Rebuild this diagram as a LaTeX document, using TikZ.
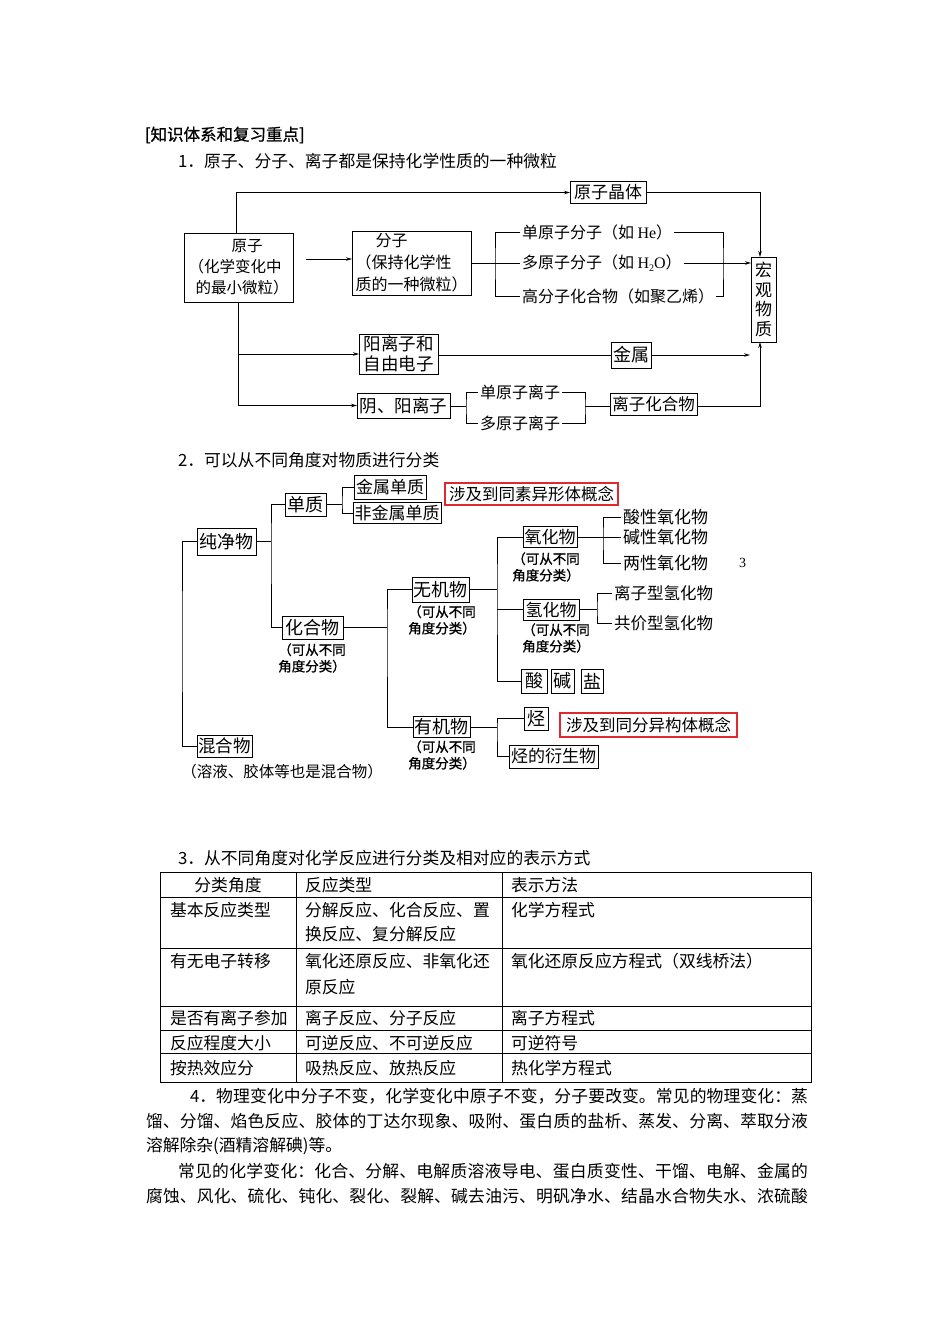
\documentclass[tikz,border=0pt]{standalone}
\usepackage{fontspec}
\setmainfont{Noto Sans CJK SC}
\newfontfamily\hb[FakeBold=1]{Noto Sans CJK SC}
\newfontfamily\lat{Liberation Serif}
\XeTeXlinebreaklocale "zh"
\XeTeXlinebreakskip=0pt plus 3pt
\usetikzlibrary{arrows.meta}
\definecolor{redbox}{RGB}{225,40,45}
\begin{document}
\begin{tikzpicture}[x=1pt,y=-1pt,
  every node/.style={inner sep=0pt, outer sep=0pt},
  ln/.style={line width=0.9pt},
  arr/.style={line width=0.9pt, -{Stealth[length=6pt,width=3.5pt]}},
  box/.style={draw, line width=0.9pt, font=\fontsize{17}{20}\selectfont},
  rbox/.style={draw=redbox, line width=1.1pt, font=\fontsize{16.5}{20}\selectfont},
  lab/.style={anchor=west, inner sep=2pt, font=\fontsize{16}{19}\selectfont},
  lab2/.style={anchor=west, inner sep=2pt, font=\fontsize{17}{19}\selectfont},
  note/.style={align=center, font=\hb\fontsize{13.5}{16.5}\selectfont},
  title/.style={anchor=west, font=\fontsize{16.8}{20}\selectfont},
  tc/.style={anchor=west, font=\fontsize{16.8}{20}\selectfont},
  jl/.style={anchor=west, text width=#1, align=justify, inner sep=0pt, font=\fontsize{16.8}{20}\selectfont},
  tbl/.style={line width=0.7pt}
]
\useasboundingbox (0,0) rectangle (950,1344);
\fill[white] (0,0) rectangle (950,1344);

% headings
\node[anchor=west, font=\hb\fontsize{16.5}{20}\selectfont] (h0) at (145,135) {[知识体系和复习重点]};
\node[title] (t1) at (178,161) {1．原子、分子、离子都是保持化学性质的一种微粒};

% ---------- diagram 1 ----------
\node[box, minimum width=109, minimum height=69, align=left, font=\fontsize{15.5}{21}\selectfont] (yz) at (238.5,267.5)
  {\hspace{43pt}原子\\（化学变化中\\\hspace{7pt}的最小微粒）};
\node[box, minimum width=119, minimum height=64, align=left, font=\fontsize{16}{22}\selectfont] (fz) at (411.5,263)
  {\hspace{20pt}分子\\（保持化学性\\质的一种微粒）};
\node[box, minimum width=76, minimum height=22] (jt) at (608,192.5) {原子晶体};
\node[box, minimum width=25, minimum height=85, align=center, font=\fontsize{17}{19.5}\selectfont] (hg) at (763.5,299.5) {宏\\观\\物\\质};
\node[lab] (dy1) at (520,232) {单原子分子（如 {\lat He}）};
\node[lab] (dy2) at (520,263) {多原子分子（如 {\lat H\raisebox{-3pt}{\fontsize{10}{10}\selectfont 2}O}）};
\node[lab] (dy3) at (520,296) {高分子化合物（如聚乙烯）};
\node[box, minimum width=79, minimum height=40, align=left, font=\fontsize{17.5}{20}\selectfont] (yl) at (398.5,354) {阳离子和\\自由电子};
\node[box, minimum width=40, minimum height=26, font=\fontsize{18}{20}\selectfont] (js) at (631,355) {金属};
\node[box, minimum width=93, minimum height=25, font=\fontsize{17.5}{20}\selectfont] (yy) at (403.5,405.5) {阴、阳离子};
\node[lab] (dz1) at (478,392) {单原子离子};
\node[lab] (dz2) at (478,423) {多原子离子};
\node[box, minimum width=87, minimum height=22, font=\fontsize{16.5}{20}\selectfont] (lz) at (653.5,404.5) {离子化合物};

\coordinate (a1) at (306,259);
\coordinate (br1) at (495,263);
\coordinate (br2) at (723,263);
\coordinate (br3) at (466,406);
\coordinate (br4) at (585,406);
\coordinate (a2) at (750,355);

\draw[arr] ([xshift=-2.5pt]yz.north) |- (jt.west);
\draw[arr] (jt.east) -| ([xshift=-3.5pt]hg.north);
\draw[arr] (a1) -- (a1 -| fz.west);
\draw[ln] (fz.east) -- (dy2.west);
\draw[ln] (dy1.west) -| (br1) |- (dy3.west);
\draw[ln] (dy1.east) -| (br2) |- (dy3.east);
\draw[arr] (dy2.east) -- (dy2.east -| hg.west);
\draw[arr] (yz.south) |- (yy.west);
\draw[arr] (yz.south |- yl.west) -- (yl.west);
\draw[ln] (yl.east |- js.west) -- (js.west);
\draw[arr] (js.east) -- (a2);
\draw[ln] (yy.east |- br3) -- (br3);
\draw[ln] (dz1.west) -| (br3) |- (dz2.west);
\draw[ln] (dz1.east) -| (br4) |- (dz2.east);
\draw[ln] (br4) -- (br4 -| lz.west);
\draw[arr] (lz.east |- br4) -| ([xshift=-3.5pt]hg.south);

% ---------- diagram 2 ----------
\node[title] (t2) at (178,460) {2．可以从不同角度对物质进行分类};

\node[box, minimum width=59, minimum height=27, font=\fontsize{18}{20}\selectfont] (cj) at (226.5,541.5) {纯净物};
\node[box, minimum width=55, minimum height=22, font=\fontsize{17.5}{20}\selectfont] (hh) at (224.5,746) {混合物};
\node[font=\fontsize{15.5}{19}\selectfont] (hhn) at (282,772) {（溶液、胶体等也是混合物）};
\node[box, minimum width=41, minimum height=23, font=\fontsize{18}{20}\selectfont] (dz) at (305.5,504.5) {单质};
\node[box, minimum width=61, minimum height=23, font=\fontsize{18}{20}\selectfont] (hhw) at (312.5,627.5) {化合物};
\node[note] (hhwn) at (312,658) {（可从不同\\角度分类）};
\node[box, minimum width=72, minimum height=24] (jsdz) at (390,487) {金属单质};
\node[box, minimum width=88, minimum height=21] (fjs) at (397,513) {非金属单质};
\node[rbox, minimum width=173, minimum height=22] (r1) at (531.5,494) {涉及到同素异形体概念};

\node[box, minimum width=57, minimum height=25, font=\fontsize{18}{20}\selectfont] (wj) at (440.5,589.5) {无机物};
\node[note] (wjn) at (442,620) {（可从不同\\角度分类）};
\node[box, minimum width=57, minimum height=21, font=\fontsize{18}{20}\selectfont] (yj) at (441.5,727) {有机物};
\node[note] (yjn) at (442,755) {（可从不同\\角度分类）};

\node[box, minimum width=54, minimum height=21] (yh) at (550,537) {氧化物};
\node[note] (yhn) at (546,567) {（可从不同\\角度分类）};
\node[box, minimum width=56, minimum height=21] (qh) at (551,609.5) {氢化物};
\node[note] (qhn) at (556,638) {（可从不同\\角度分类）};
\node[box, minimum width=26, minimum height=24, font=\fontsize{18}{20}\selectfont] (suan) at (534,681) {酸};
\node[box, minimum width=23, minimum height=24, font=\fontsize{18}{20}\selectfont] (jian) at (562.5,681) {碱};
\node[box, minimum width=22, minimum height=24, font=\fontsize{18}{20}\selectfont] (yan) at (592,681) {盐};

\node[lab2] (sx1) at (621,517) {酸性氧化物};
\node[lab2] (sx2) at (621,537) {碱性氧化物};
\node[lab2] (sx3) at (621,563) {两性氧化物};
\node[anchor=west, font=\lat\fontsize{14}{14}\selectfont] (n3) at (739,563) {3};
\node[lab, font=\fontsize{16.5}{19}\selectfont] (qh1) at (612,593) {离子型氢化物};
\node[lab, font=\fontsize{16.5}{19}\selectfont] (qh2) at (612,623) {共价型氢化物};

\node[box, minimum width=24, minimum height=23, font=\fontsize{18}{20}\selectfont] (ting) at (536,718.5) {烃};
\node[box, minimum width=89, minimum height=23] (ys) at (553.5,756.5) {烃的衍生物};
\node[rbox, minimum width=177, minimum height=24] (r2) at (648.5,725) {涉及到同分异构体概念};

\coordinate (b0) at (182,640);
\coordinate (b1) at (271,541.5);
\coordinate (b2) at (342,504.5);
\coordinate (b3) at (387,627.5);
\coordinate (b4) at (497,589.5);
\coordinate (b5) at (603,537);
\coordinate (b6) at (597,609.5);
\coordinate (b7) at (497,727);

\draw[ln] (cj.west) -| (b0) |- (hh.west);
\draw[ln] (cj.east) -- (b1);
\draw[ln] (dz.west) -| (b1) |- (hhw.west);
\draw[ln] (dz.east) -- (b2);
\draw[ln] (jsdz.west) -| (b2) |- (fjs.west);
\draw[ln] (hhw.east) -- (b3);
\draw[ln] (wj.west) -| (b3) |- (yj.west);
\draw[ln] (wj.east) -- (b4);
\draw[ln] (yh.west) -| (b4) |- (suan.west);
\draw[ln] (qh.west -| b4) -- (qh.west);
\draw[ln] (yh.east) -- (sx2.west);
\draw[ln] (sx1.west) -| (b5) |- (sx3.west);
\draw[ln] (qh.east) -- (b6);
\draw[ln] (qh1.west) -| (b6) |- (qh2.west);
\draw[ln] (yj.east) -- (b7);
\draw[ln] (ting.west) -| (b7) |- (ys.west);

% ---------- table ----------
\node[title] (t3) at (178,858) {3．从不同角度对化学反应进行分类及相对应的表示方式};
\draw[tbl] (160,872) rectangle (811,1082);
\foreach \yy in {897,948,1006,1030,1053} \draw[tbl] (160,\yy) -- (811,\yy);
\draw[tbl] (296,872) -- (296,1082);
\draw[tbl] (502,872) -- (502,1082);

\node[font=\fontsize{16.8}{20}\selectfont] (c00) at (228,885) {分类角度};
\node[tc] (c01) at (305,885) {反应类型};
\node[tc] (c02) at (511,885) {表示方法};
\node[tc] (c10) at (170,910) {基本反应类型};
\node[tc] (c11) at (305,910) {分解反应、化合反应、置};
\node[tc] (c11b) at (305,934) {换反应、复分解反应};
\node[tc] (c12) at (511,910) {化学方程式};
\node[tc] (c20) at (170,961) {有无电子转移};
\node[tc] (c21) at (305,961) {氧化还原反应、非氧化还};
\node[tc] (c21b) at (305,987) {原反应};
\node[tc] (c22) at (511,961) {氧化还原反应方程式（双线桥法）};
\node[tc] (c30) at (170,1018) {是否有离子参加};
\node[tc] (c31) at (305,1018) {离子反应、分子反应};
\node[tc] (c32) at (511,1018) {离子方程式};
\node[tc] (c40) at (170,1043) {反应程度大小};
\node[tc] (c41) at (305,1043) {可逆反应、不可逆反应};
\node[tc] (c42) at (511,1043) {可逆符号};
\node[tc] (c50) at (170,1068) {按热效应分};
\node[tc] (c51) at (305,1068) {吸热反应、放热反应};
\node[tc] (c52) at (511,1068) {热化学方程式};

% ---------- paragraph ----------
\node[jl=618pt] (p1) at (190,1096) {\noindent\parfillskip=0pt 4．物理变化中分子不变，化学变化中原子不变，分子要改变。常见的物理变化：蒸\par};
\node[jl=662pt] (p2) at (146,1121) {\noindent\parfillskip=0pt 馏、分馏、焰色反应、胶体的丁达尔现象、吸附、蛋白质的盐析、蒸发、分离、萃取分液\par};
\node[tc] (p3) at (146,1146) {溶解除杂(酒精溶解碘)等。};
\node[jl=630pt] (p4) at (178,1171) {\noindent\parfillskip=0pt 常见的化学变化：化合、分解、电解质溶液导电、蛋白质变性、干馏、电解、金属的\par};
\node[jl=662pt] (p5) at (146,1196) {\noindent\parfillskip=0pt 腐蚀、风化、硫化、钝化、裂化、裂解、碱去油污、明矾净水、结晶水合物失水、浓硫酸\par};
\end{tikzpicture}
\end{document}
